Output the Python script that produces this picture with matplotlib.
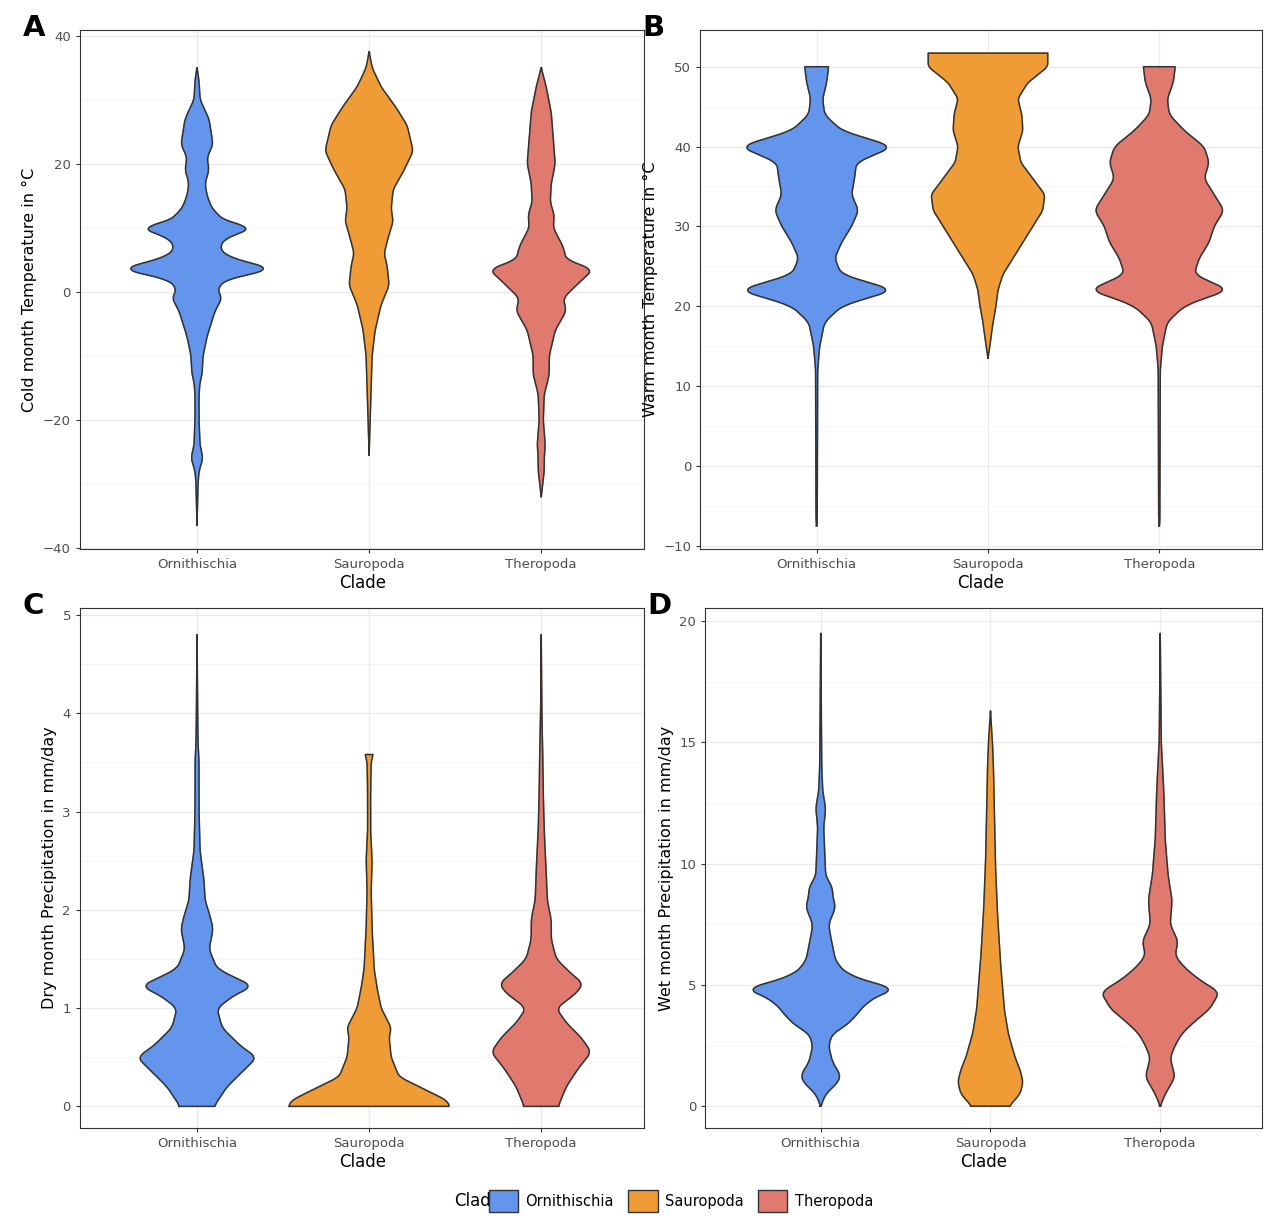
import numpy as np
import matplotlib.pyplot as plt
from matplotlib.patches import Patch
from matplotlib.ticker import MultipleLocator

clades = ['Ornithischia', 'Sauropoda', 'Theropoda']
colors = ['#6495ED', '#F09C36', '#E07A6E']

# violin outlines: (value, half-width in pixels of a 172px category step)
cold_orn = [(-36.5, 0), (-30, 1), (-28, 2), (-26, 6), (-24, 3), (-20, 2), (-16, 2), (-14, 3), (-13, 5), (-10, 6),
            (-7, 10), (-5, 14), (-3, 18), (-1, 25), (0.5, 20), (2, 30), (3.5, 77), (5.5, 30), (7, 22), (8.5, 30),
            (10, 58), (11, 28), (13, 15), (15, 10), (17, 8), (19, 12), (21, 10), (23, 16), (25, 14), (27, 12),
            (30, 3), (33, 2), (35, 0)]
cold_sau = [(-25.5, 0), (-20, 1), (-15, 2), (-10, 3), (-6, 6), (-2, 12), (1, 20), (4, 18), (6, 15), (9, 20),
            (11, 24), (13, 22), (16, 24), (19, 35), (22, 44), (26, 38), (29, 26), (32, 12), (35, 3), (37.5, 0)]
cold_the = [(-32, 0), (-28, 3), (-26, 3), (-24, 4), (-20, 2), (-16, 3), (-13, 8), (-10, 8), (-6, 14), (-3, 25),
            (-1, 22), (1, 35), (3.5, 52), (5, 25), (7, 22), (10, 12), (12, 13), (14, 9), (17, 10), (20, 14),
            (24, 12), (28, 10), (32, 5), (35, 0)]

warm_orn = [(-7.5, 0), (-7, 0.6), (12, 1), (15, 3), (18, 8), (20, 25), (21, 50), (22, 78), (24, 25), (26, 18),
            (28, 25), (30, 35), (32, 42), (34, 35), (36, 38), (38, 40), (40, 77), (42, 25), (44, 8), (46, 6),
            (48, 10), (50, 12)]
warm_sau = [(13.5, 0), (16, 3), (18, 5), (20, 8), (22, 10), (24, 15), (26, 25), (28, 35), (30, 45), (32, 55),
            (34, 57), (36, 45), (38, 33), (40, 30), (42, 35), (44, 34), (46, 30), (48, 40), (50, 60), (51.7, 60)]
warm_the = [(-7.5, 0), (-7, 0.6), (12, 1), (15, 3), (18, 8), (20, 25), (21, 45), (22, 70), (24, 35), (26, 40),
            (28, 50), (30, 55), (32, 65), (34, 55), (36, 45), (38, 50), (40, 45), (42, 25), (44, 10), (46, 8),
            (48, 14), (50, 16)]

dry_orn = [(0, 17), (0.2, 30), (0.4, 50), (0.5, 60), (0.6, 45), (0.8, 25), (1.0, 20), (1.15, 40), (1.22, 57),
           (1.3, 40), (1.4, 20), (1.6, 12), (1.8, 16), (1.9, 14), (2.1, 8), (2.3, 7), (2.6, 3), (3.0, 2),
           (3.5, 2), (3.7, 1), (4.0, 0.6), (4.8, 0)]
dry_sau = [(0, 80), (0.05, 79), (0.1, 70), (0.2, 50), (0.3, 30), (0.5, 22), (0.7, 20), (0.8, 22), (1.0, 12),
           (1.2, 8), (1.4, 5), (1.8, 3), (2.2, 2), (2.5, 3), (2.8, 1.5), (3.2, 1.5), (3.5, 2), (3.58, 4)]
dry_the = [(0, 17), (0.2, 25), (0.4, 38), (0.55, 50), (0.7, 40), (0.85, 25), (1.0, 15), (1.15, 35), (1.25, 42),
           (1.35, 30), (1.5, 15), (1.7, 10), (1.9, 10), (2.1, 6), (2.4, 5), (2.8, 3), (3.2, 2), (3.6, 1.5),
           (4.0, 0.6), (4.8, 0)]

wet_orn = [(0, 0), (0.5, 5), (1.0, 18), (1.3, 20), (1.8, 12), (2.5, 8), (3.0, 12), (3.3, 25), (3.7, 35),
           (4.2, 45), (4.6, 60), (4.85, 78), (5.1, 50), (5.5, 25), (6.0, 15), (7, 10), (7.5, 8), (8.2, 15),
           (8.7, 12), (9.0, 12), (9.5, 5), (10.5, 4), (11.5, 3), (12.3, 5), (13, 2), (14, 1), (16, 0.6), (19.5, 0)]
wet_sau = [(0, 19), (0.5, 30), (1.0, 33), (1.5, 30), (2, 25), (3, 18), (4, 14), (5, 12), (6, 10), (8, 7),
           (10, 5), (12, 4), (14, 3), (15, 2), (16.3, 0)]
wet_the = [(0, 0), (0.5, 5), (1.2, 15), (2, 10), (2.5, 15), (3, 22), (3.5, 35), (4.0, 50), (4.7, 60), (5.2, 40),
           (5.7, 25), (6.2, 15), (6.8, 18), (7.5, 10), (8.5, 12), (9.5, 8), (11, 5), (12.5, 4), (13.5, 3),
           (15, 1), (19.5, 0)]

panels = [
    ('A', 'Cold month Temperature in °C', [cold_orn, cold_sau, cold_the], (-40.2, 40.9), 20, 10,
     [0.0625, 0.5533, 0.441, 0.4223]),
    ('B', 'Warm month Temperature in °C', [warm_orn, warm_sau, warm_the], (-10.4, 54.6), 10, 5,
     [0.547, 0.5533, 0.439, 0.4223]),
    ('C', 'Dry month Precipitation in mm/day', [dry_orn, dry_sau, dry_the], (-0.22, 5.07), 1, 0.5,
     [0.0625, 0.0822, 0.441, 0.423]),
    ('D', 'Wet month Precipitation in mm/day', [wet_orn, wet_sau, wet_the], (-0.9, 20.54), 5, 2.5,
     [0.551, 0.0822, 0.435, 0.423]),
]

fig = plt.figure(figsize=(12.8, 12.29), dpi=100)
for letter, ylab, outlines, ylim, major, minor, rect in panels:
    ax = fig.add_axes(rect)
    for i, (pts, col) in enumerate(zip(outlines, colors)):
        y = np.array([p[0] for p in pts])
        w = np.array([p[1] for p in pts]) / 172.0
        yy = np.linspace(y.min(), y.max(), 400)
        ww = np.interp(yy, y, w)
        k = np.ones(9) / 9
        ws = np.convolve(np.pad(ww, 4, mode='edge'), k, mode='valid')
        xs = np.concatenate([i + 1 - ws, (i + 1 + ws)[::-1], [i + 1 - ws[0]]])
        ys = np.concatenate([yy, yy[::-1], [yy[0]]])
        ax.fill(xs, ys, color=col, zorder=3)
        ax.plot(xs, ys, color='#333333', lw=1.1, zorder=4)
    ax.set_xlim(0.32, 3.6)
    ax.set_ylim(*ylim)
    ax.set_xticks([1, 2, 3])
    ax.set_xticklabels(clades)
    ax.yaxis.set_major_locator(MultipleLocator(major))
    ax.yaxis.set_minor_locator(MultipleLocator(minor))
    ax.grid(True, which='major', color='#EBEBEB', lw=1.0, zorder=0)
    ax.grid(True, which='minor', axis='y', color='#F3F3F3', lw=0.6, zorder=0)
    ax.set_axisbelow(True)
    for s in ax.spines.values():
        s.set_color('#333333')
        s.set_linewidth(0.8)
    ax.tick_params(which='major', colors='#333333', labelcolor='#4D4D4D', labelsize=9.5, length=3)
    ax.tick_params(which='minor', length=0)
    ax.set_ylabel(ylab, fontsize=11.5)
    ax.set_xlabel('Clade', fontsize=12, labelpad=2)
    fig.text(rect[0] - 0.045, rect[1] + rect[3] + 0.002, letter, fontsize=21, fontweight='bold',
             ha='left', va='center')

fig.text(478 / 1280, 1 - 1201 / 1229, 'Clade', fontsize=12, ha='center', va='center')
handles = [Patch(facecolor=c, edgecolor='#333333', label=n) for c, n in zip(colors, clades)]
fig.legend(handles=handles, loc='center', bbox_to_anchor=(681 / 1280, 1 - 1201 / 1229), ncol=3,
           frameon=False, fontsize=10.5, handlelength=2.0, handleheight=2.0, columnspacing=1.0,
           handletextpad=0.5)

fig.savefig('out.png', dpi=100)
